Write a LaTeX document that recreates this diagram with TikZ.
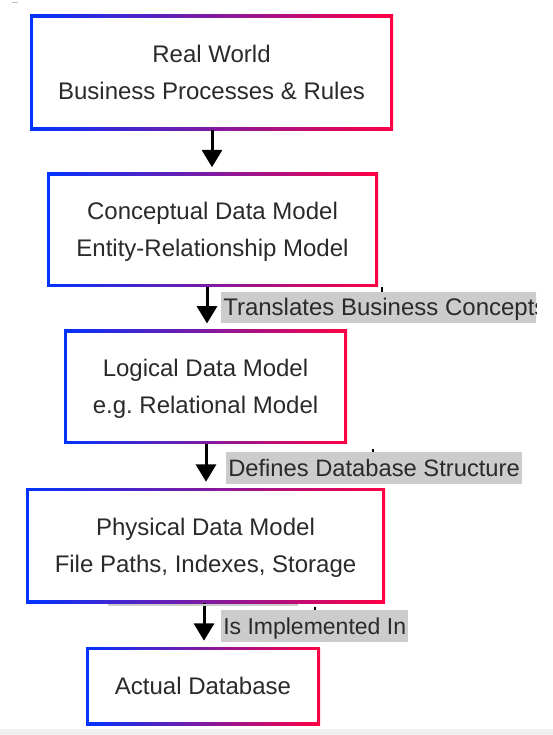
\documentclass[tikz,border=0pt]{standalone}
\usepackage{fontspec}
\setmainfont{Liberation Sans}
\usetikzlibrary{arrows.meta}
\definecolor{gl}{RGB}{0,51,255}
\definecolor{gr}{RGB}{255,0,68}
\definecolor{txt}{RGB}{42,42,42}
\definecolor{lblbg}{RGB}{204,204,204}
\definecolor{barbg}{RGB}{240,240,240}
\newcommand{\lnstrut}{\rule[-0.25em]{0pt}{1.2em}}
\frenchspacing
\begin{document}
\begin{tikzpicture}[x=0.75pt,y=-0.75pt,
  gbox/.style={rectangle, fill=white, inner sep=0pt, align=center, text=txt,
    font=\fontsize{18pt}{27.75pt}\selectfont,
    path picture={
      \shade[left color=gl,right color=gr] (path picture bounding box.south west) rectangle (path picture bounding box.north east);
      \fill[white] ([shift={(2.25pt,2.25pt)}]path picture bounding box.south west) rectangle ([shift={(-2.25pt,-2.25pt)}]path picture bounding box.north east);
    }},
  lbl/.style={fill=lblbg, text=txt, anchor=west, inner xsep=1.5pt, inner ysep=0pt,
    minimum height=23.5pt},
  arr/.style={line width=2.25pt, -{Triangle[width=15pt,length=13pt]}, shorten >=4.5pt},
  tick/.style={fill=black}
]
\useasboundingbox (0,0) rectangle (553,735);
\fill[barbg] (0,729) rectangle (553,735);
\draw[gray!50, line width=0.75pt] (12,3) -- (18,3);

\node[gbox, minimum width=272.25pt, minimum height=86.25pt] (b1) at (211.5,72.5)
  {\lnstrut Real World\\\lnstrut Business Processes \& Rules};
\node[gbox, minimum width=248.25pt, minimum height=85.5pt] (b2) at (212.5,229.5)
  {\lnstrut Conceptual Data Model\\\lnstrut Entity-Relationship Model};
\node[gbox, minimum width=212.25pt, minimum height=85.5pt] (b3) at (205.5,386.75)
  {\lnstrut Logical Data Model\\\lnstrut e.g. Relational Model};
\node[gbox, minimum width=269.25pt, minimum height=86.25pt] (b4) at (205.5,545.5)
  {\lnstrut Physical Data Model\\\lnstrut File Paths, Indexes, Storage};
\node[gbox, minimum width=175.5pt, minimum height=58.5pt] (b5) at (203,686)
  {\lnstrut Actual Database};

\coordinate (x1) at (212,0);
\coordinate (x2) at (207,0);
\coordinate (x3) at (206,0);
\coordinate (x4) at (204,0);
\draw[arr, shorten >=3.75pt] (b1.south -| x1) -- (b2.north -| x1);
\draw[arr] (b2.south -| x2) -- (b3.north -| x2);
\draw[arr] (b3.south -| x3) -- (b4.north -| x3);
\draw[arr] (b4.south -| x4) -- (b5.north -| x4);

\begin{scope}
  \clip (0,0) rectangle (536,735);
  \node[lbl, font=\fontsize{18pt}{27pt}\selectfont] (l1) at (221,307.5) {\lnstrut Translates Business Concepts};
\end{scope}
\node[lbl, font=\fontsize{17.8pt}{27pt}\selectfont] (l2) at (226,468) {\lnstrut Defines Database Structure};
\node[lbl, font=\fontsize{17.25pt}{27pt}\selectfont] (l3) at (221,626) {\lnstrut Is Implemented In};

\fill[tick] (381,287) rectangle (383,292);
\fill[tick] (372,449) rectangle (374,452);
\fill[tick] (314,607) rectangle (316,610);
\fill[lblbg] (108,603.5) rectangle (298,606);
\end{tikzpicture}
\end{document}
